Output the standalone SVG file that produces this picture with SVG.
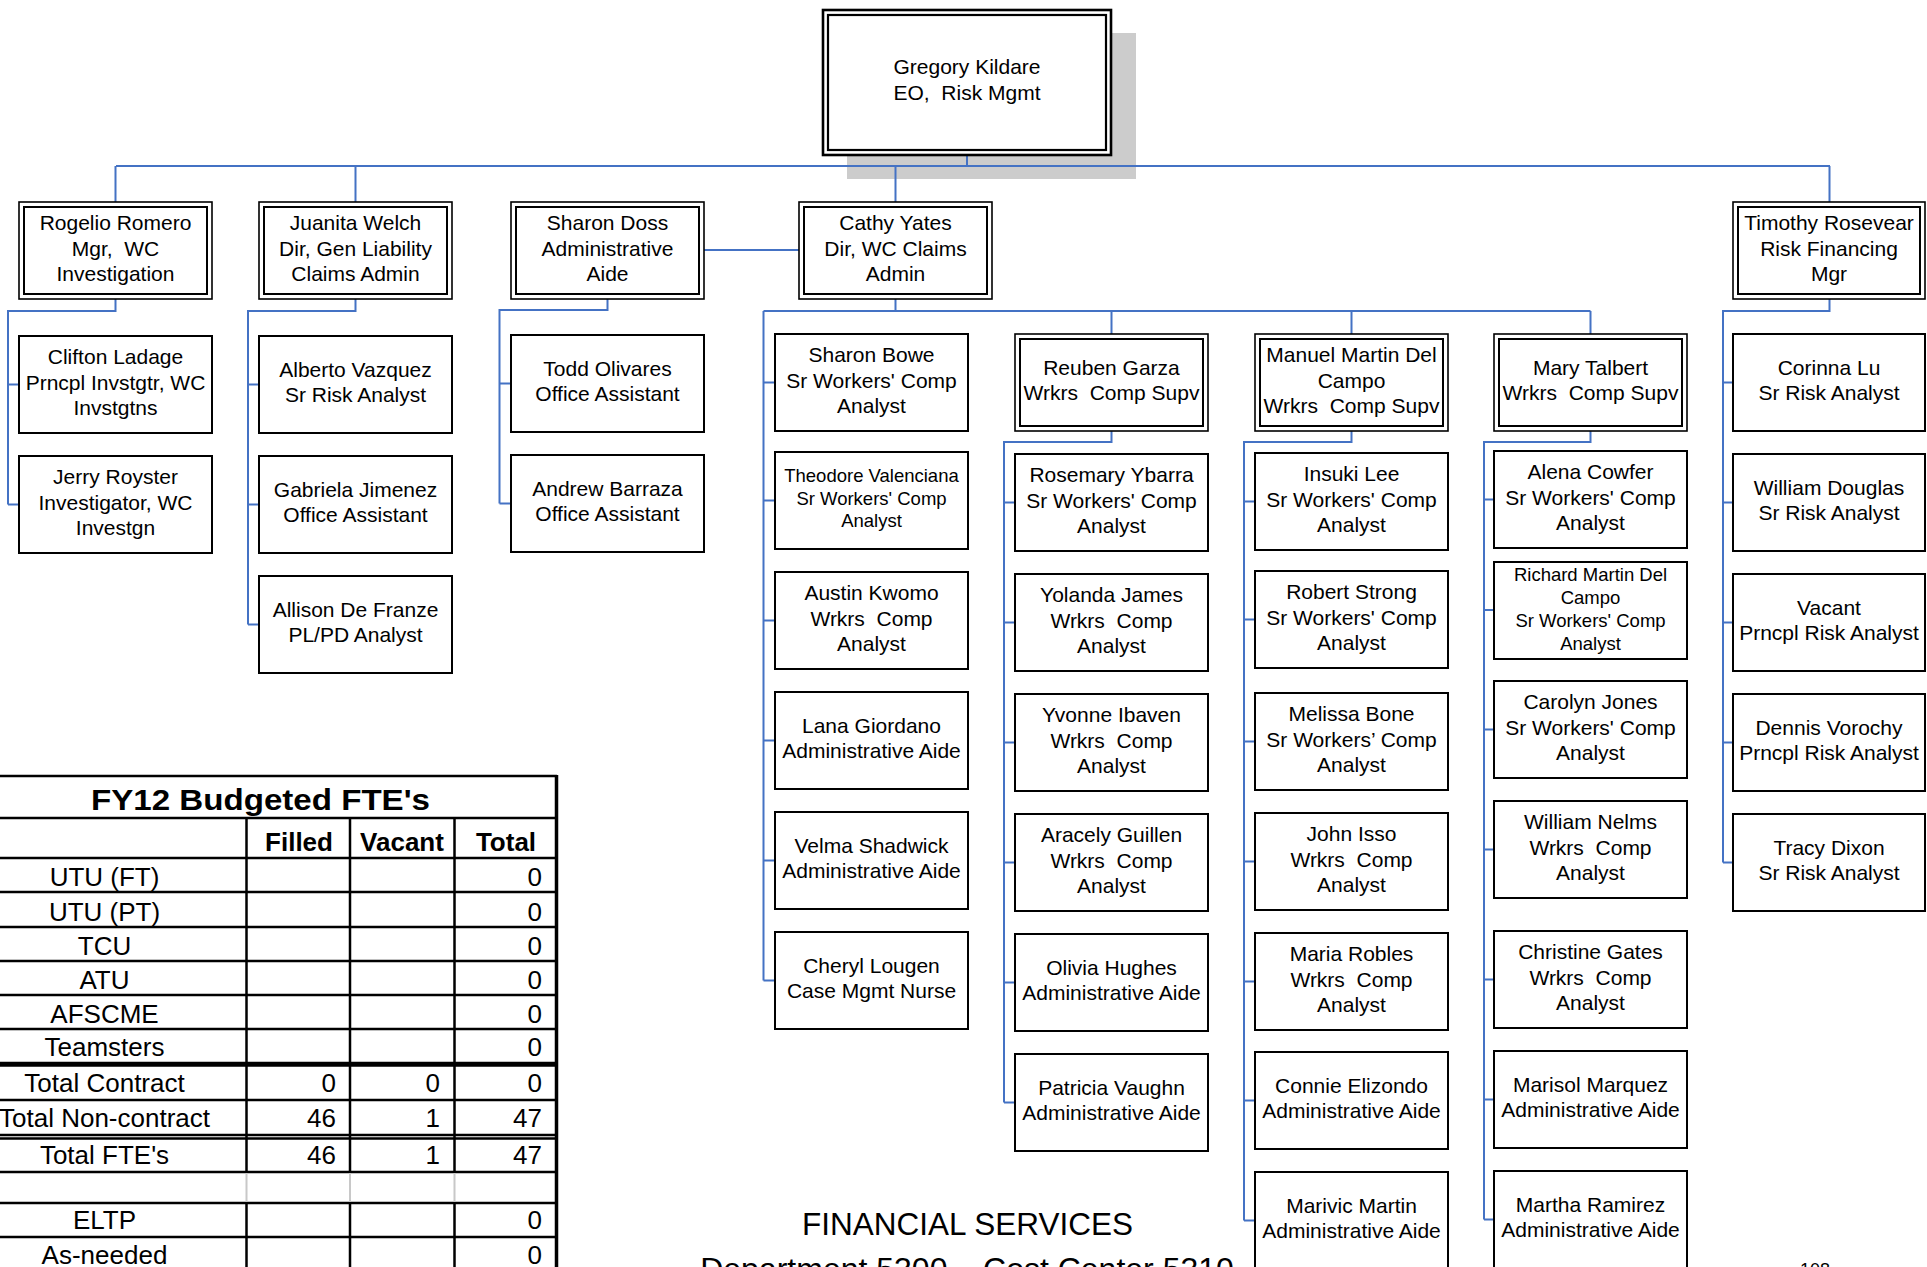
<svg xmlns="http://www.w3.org/2000/svg" width="1927" height="1267" viewBox="0 0 1927 1267">
<style>
.bx{fill:#fff;stroke:#000;stroke-width:2}
.ob{fill:#fff;stroke:#000;stroke-width:1.6}
.ib{fill:none;stroke:#000;stroke-width:2}
.cn{fill:none;stroke:#4472C4;stroke-width:2}
text{font-family:"Liberation Sans",Arial,sans-serif;fill:#000;white-space:pre}
.t{font-size:21px;text-anchor:middle;transform:translateY(-2.5px)}
.s{font-size:18.5px;text-anchor:middle;transform:translateY(-2px)}
.tl{stroke:#000;stroke-width:2.5}
.tg{stroke:#c8c8c8;stroke-width:2}
.tb{font-size:26px;text-anchor:middle}
.tn{font-size:26px;text-anchor:end}
.th{font-size:26px;font-weight:bold;text-anchor:middle}
</style>
<rect width="1927" height="1267" fill="#fff"/>
<rect x="847" y="33" width="289" height="146" fill="#cccccc"/>

<g id="connectors">
<path class="cn" d="M967 155V166M116 166H1830M115.5 166V202M355.5 166V202M895.5 166V202M1829.5 166V202"/>
<path class="cn" d="M115.5 299V311H8V504.5M8 384.5H19M8 504.5H19"/>
<path class="cn" d="M355.5 299V311H248V624.5M248 384.5H259M248 504.5H259M248 624.5H259"/>
<path class="cn" d="M607.5 299V310H499.5V503.5M499.5 383.5H511M499.5 503.5H511"/>
<path class="cn" d="M704 250H799"/>
<path class="cn" d="M895.5 299V311M763.5 311H1590.5M763.5 311V980.5M763.5 382.5H775M763.5 500.5H775M763.5 620.5H775M763.5 740.5H775M763.5 860.5H775M763.5 980.5H775M1111.5 311V334M1351.5 311V334M1590.5 311V334"/>
<path class="cn" d="M1111.5 431V442H1004V1102.5M1004 502.5H1015M1004 622.5H1015M1004 742.5H1015M1004 862.5H1015M1004 982.5H1015M1004 1102.5H1015"/>
<path class="cn" d="M1351.5 431V442H1244V1220.5M1244 501.5H1255M1244 619.5H1255M1244 741.5H1255M1244 861.5H1255M1244 981.5H1255M1244 1100.5H1255M1244 1220.5H1255"/>
<path class="cn" d="M1590.5 431V442H1484V1219.5M1484 499.5H1494M1484 610H1494M1484 729.5H1494M1484 849.5H1494M1484 979.5H1494M1484 1099.5H1494M1484 1219.5H1494"/>
<path class="cn" d="M1829.5 299V311H1723V862.5M1723 382.5H1733M1723 502.5H1733M1723 622.5H1733M1723 742.5H1733M1723 862.5H1733"/>
</g>

<g id="n-kildare">
<rect x="823" y="10" width="288" height="145" fill="#fff" stroke="#000" stroke-width="2.6"/>
<rect x="828" y="15" width="278" height="135" fill="none" stroke="#000" stroke-width="2.2"/>
<text class="t" x="967" y="76.5">Gregory Kildare</text>
<text class="t" x="967" y="102.5">EO,  Risk Mgmt</text>
</g>

<g id="n-romero"><rect class="ob" x="19" y="202" width="193" height="97"/><rect class="ib" x="24" y="207" width="183" height="87"/>
<text class="t" x="115.5" y="232.5">Rogelio Romero</text><text class="t" x="115.5" y="258">Mgr,  WC</text><text class="t" x="115.5" y="283.5">Investigation</text></g>
<g id="n-welch"><rect class="ob" x="259" y="202" width="193" height="97"/><rect class="ib" x="264" y="207" width="183" height="87"/>
<text class="t" x="355.5" y="232.5">Juanita Welch</text><text class="t" x="355.5" y="258">Dir, Gen Liability</text><text class="t" x="355.5" y="283.5">Claims Admin</text></g>
<g id="n-doss"><rect class="ob" x="511" y="202" width="193" height="97"/><rect class="ib" x="516" y="207" width="183" height="87"/>
<text class="t" x="607.5" y="232.5">Sharon Doss</text><text class="t" x="607.5" y="258">Administrative</text><text class="t" x="607.5" y="283.5">Aide</text></g>
<g id="n-yates"><rect class="ob" x="799" y="202" width="193" height="97"/><rect class="ib" x="804" y="207" width="183" height="87"/>
<text class="t" x="895.5" y="232.5">Cathy Yates</text><text class="t" x="895.5" y="258">Dir, WC Claims</text><text class="t" x="895.5" y="283.5">Admin</text></g>
<g id="n-rosevear"><rect class="ob" x="1733" y="202" width="192" height="97"/><rect class="ib" x="1738" y="207" width="182" height="87"/>
<text class="t" x="1829" y="232.5">Timothy Rosevear</text><text class="t" x="1829" y="258">Risk Financing</text><text class="t" x="1829" y="283.5">Mgr</text></g>

<g id="n-ladage"><rect class="bx" x="19" y="336" width="193" height="97"/>
<text class="t" x="115.5" y="366.5">Clifton Ladage</text><text class="t" x="115.5" y="392">Prncpl Invstgtr, WC</text><text class="t" x="115.5" y="417.5">Invstgtns</text></g>
<g id="n-royster"><rect class="bx" x="19" y="456" width="193" height="97"/>
<text class="t" x="115.5" y="486.5">Jerry Royster</text><text class="t" x="115.5" y="512">Investigator, WC</text><text class="t" x="115.5" y="537.5">Investgn</text></g>

<g id="n-vazquez"><rect class="bx" x="259" y="336" width="193" height="97"/>
<text class="t" x="355.5" y="379.5">Alberto Vazquez</text><text class="t" x="355.5" y="404.5">Sr Risk Analyst</text></g>
<g id="n-jimenez"><rect class="bx" x="259" y="456" width="193" height="97"/>
<text class="t" x="355.5" y="499.5">Gabriela Jimenez</text><text class="t" x="355.5" y="524.5">Office Assistant</text></g>
<g id="n-defranze"><rect class="bx" x="259" y="576" width="193" height="97"/>
<text class="t" x="355.5" y="619.5">Allison De Franze</text><text class="t" x="355.5" y="644.5">PL/PD Analyst</text></g>

<g id="n-olivares"><rect class="bx" x="511" y="335" width="193" height="97"/>
<text class="t" x="607.5" y="378.5">Todd Olivares</text><text class="t" x="607.5" y="403.5">Office Assistant</text></g>
<g id="n-barraza"><rect class="bx" x="511" y="455" width="193" height="97"/>
<text class="t" x="607.5" y="498.5">Andrew Barraza</text><text class="t" x="607.5" y="523.5">Office Assistant</text></g>

<g id="n-bowe"><rect class="bx" x="775" y="334" width="193" height="97"/>
<text class="t" x="871.5" y="364.5">Sharon Bowe</text><text class="t" x="871.5" y="390">Sr Workers' Comp</text><text class="t" x="871.5" y="415.5">Analyst</text></g>
<g id="n-valenciana"><rect class="bx" x="775" y="452" width="193" height="97"/>
<text class="s" x="871.5" y="483.6">Theodore Valenciana</text><text class="s" x="871.5" y="506.6">Sr Workers' Comp</text><text class="s" x="871.5" y="528.6">Analyst</text></g>
<g id="n-kwomo"><rect class="bx" x="775" y="572" width="193" height="97"/>
<text class="t" x="871.5" y="602.5">Austin Kwomo</text><text class="t" x="871.5" y="628">Wrkrs  Comp</text><text class="t" x="871.5" y="653.5">Analyst</text></g>
<g id="n-giordano"><rect class="bx" x="775" y="692" width="193" height="97"/>
<text class="t" x="871.5" y="735.5">Lana Giordano</text><text class="t" x="871.5" y="760.5">Administrative Aide</text></g>
<g id="n-shadwick"><rect class="bx" x="775" y="812" width="193" height="97"/>
<text class="t" x="871.5" y="855.5">Velma Shadwick</text><text class="t" x="871.5" y="880.5">Administrative Aide</text></g>
<g id="n-lougen"><rect class="bx" x="775" y="932" width="193" height="97"/>
<text class="t" x="871.5" y="975.5">Cheryl Lougen</text><text class="t" x="871.5" y="1000.5">Case Mgmt Nurse</text></g>

<g id="n-garza"><rect class="ob" x="1015" y="334" width="193" height="97"/><rect class="ib" x="1020" y="339" width="183" height="87"/>
<text class="t" x="1111.5" y="377.5">Reuben Garza</text><text class="t" x="1111.5" y="402.5">Wrkrs  Comp Supv</text></g>
<g id="n-delcampo-m"><rect class="ob" x="1255" y="334" width="193" height="97"/><rect class="ib" x="1260" y="339" width="183" height="87"/>
<text class="t" x="1351.5" y="364.5">Manuel Martin Del</text><text class="t" x="1351.5" y="390">Campo</text><text class="t" x="1351.5" y="415.5">Wrkrs  Comp Supv</text></g>
<g id="n-talbert"><rect class="ob" x="1494" y="334" width="193" height="97"/><rect class="ib" x="1499" y="339" width="183" height="87"/>
<text class="t" x="1590.5" y="377.5">Mary Talbert</text><text class="t" x="1590.5" y="402.5">Wrkrs  Comp Supv</text></g>

<g id="n-ybarra"><rect class="bx" x="1015" y="454" width="193" height="97"/>
<text class="t" x="1111.5" y="484.5">Rosemary Ybarra</text><text class="t" x="1111.5" y="510">Sr Workers' Comp</text><text class="t" x="1111.5" y="535.5">Analyst</text></g>
<g id="n-james"><rect class="bx" x="1015" y="574" width="193" height="97"/>
<text class="t" x="1111.5" y="604.5">Yolanda James</text><text class="t" x="1111.5" y="630">Wrkrs  Comp</text><text class="t" x="1111.5" y="655.5">Analyst</text></g>
<g id="n-ibaven"><rect class="bx" x="1015" y="694" width="193" height="97"/>
<text class="t" x="1111.5" y="724.5">Yvonne Ibaven</text><text class="t" x="1111.5" y="750">Wrkrs  Comp</text><text class="t" x="1111.5" y="775.5">Analyst</text></g>
<g id="n-guillen"><rect class="bx" x="1015" y="814" width="193" height="97"/>
<text class="t" x="1111.5" y="844.5">Aracely Guillen</text><text class="t" x="1111.5" y="870">Wrkrs  Comp</text><text class="t" x="1111.5" y="895.5">Analyst</text></g>
<g id="n-hughes"><rect class="bx" x="1015" y="934" width="193" height="97"/>
<text class="t" x="1111.5" y="977.5">Olivia Hughes</text><text class="t" x="1111.5" y="1002.5">Administrative Aide</text></g>
<g id="n-vaughn"><rect class="bx" x="1015" y="1054" width="193" height="97"/>
<text class="t" x="1111.5" y="1097.5">Patricia Vaughn</text><text class="t" x="1111.5" y="1122.5">Administrative Aide</text></g>

<g id="n-lee"><rect class="bx" x="1255" y="453" width="193" height="97"/>
<text class="t" x="1351.5" y="483.5">Insuki Lee</text><text class="t" x="1351.5" y="509">Sr Workers' Comp</text><text class="t" x="1351.5" y="534.5">Analyst</text></g>
<g id="n-strong"><rect class="bx" x="1255" y="571" width="193" height="97"/>
<text class="t" x="1351.5" y="601.5">Robert Strong</text><text class="t" x="1351.5" y="627">Sr Workers' Comp</text><text class="t" x="1351.5" y="652.5">Analyst</text></g>
<g id="n-bone"><rect class="bx" x="1255" y="693" width="193" height="97"/>
<text class="t" x="1351.5" y="723.5">Melissa Bone</text><text class="t" x="1351.5" y="749">Sr Workers’ Comp</text><text class="t" x="1351.5" y="774.5">Analyst</text></g>
<g id="n-isso"><rect class="bx" x="1255" y="813" width="193" height="97"/>
<text class="t" x="1351.5" y="843.5">John Isso</text><text class="t" x="1351.5" y="869">Wrkrs  Comp</text><text class="t" x="1351.5" y="894.5">Analyst</text></g>
<g id="n-robles"><rect class="bx" x="1255" y="933" width="193" height="97"/>
<text class="t" x="1351.5" y="963.5">Maria Robles</text><text class="t" x="1351.5" y="989">Wrkrs  Comp</text><text class="t" x="1351.5" y="1014.5">Analyst</text></g>
<g id="n-elizondo"><rect class="bx" x="1255" y="1052" width="193" height="97"/>
<text class="t" x="1351.5" y="1095.5">Connie Elizondo</text><text class="t" x="1351.5" y="1120.5">Administrative Aide</text></g>
<g id="n-martin"><rect class="bx" x="1255" y="1172" width="193" height="97"/>
<text class="t" x="1351.5" y="1215.5">Marivic Martin</text><text class="t" x="1351.5" y="1240.5">Administrative Aide</text></g>

<g id="n-cowfer"><rect class="bx" x="1494" y="451" width="193" height="97"/>
<text class="t" x="1590.5" y="481.5">Alena Cowfer</text><text class="t" x="1590.5" y="507">Sr Workers' Comp</text><text class="t" x="1590.5" y="532.5">Analyst</text></g>
<g id="n-delcampo-r"><rect class="bx" x="1494" y="562" width="193" height="97"/>
<text class="s" x="1590.5" y="582.6">Richard Martin Del</text><text class="s" x="1590.5" y="605.6">Campo</text><text class="s" x="1590.5" y="628.6">Sr Workers' Comp</text><text class="s" x="1590.5" y="651.6">Analyst</text></g>
<g id="n-jones"><rect class="bx" x="1494" y="681" width="193" height="97"/>
<text class="t" x="1590.5" y="711.5">Carolyn Jones</text><text class="t" x="1590.5" y="737">Sr Workers' Comp</text><text class="t" x="1590.5" y="762.5">Analyst</text></g>
<g id="n-nelms"><rect class="bx" x="1494" y="801" width="193" height="97"/>
<text class="t" x="1590.5" y="831.5">William Nelms</text><text class="t" x="1590.5" y="857">Wrkrs  Comp</text><text class="t" x="1590.5" y="882.5">Analyst</text></g>
<g id="n-gates"><rect class="bx" x="1494" y="931" width="193" height="97"/>
<text class="t" x="1590.5" y="961.5">Christine Gates</text><text class="t" x="1590.5" y="987">Wrkrs  Comp</text><text class="t" x="1590.5" y="1012.5">Analyst</text></g>
<g id="n-marquez"><rect class="bx" x="1494" y="1051" width="193" height="97"/>
<text class="t" x="1590.5" y="1094.5">Marisol Marquez</text><text class="t" x="1590.5" y="1119.5">Administrative Aide</text></g>
<g id="n-ramirez"><rect class="bx" x="1494" y="1171" width="193" height="97"/>
<text class="t" x="1590.5" y="1214.5">Martha Ramirez</text><text class="t" x="1590.5" y="1239.5">Administrative Aide</text></g>

<g id="n-lu"><rect class="bx" x="1733" y="334" width="192" height="97"/>
<text class="t" x="1829" y="377.5">Corinna Lu</text><text class="t" x="1829" y="402.5">Sr Risk Analyst</text></g>
<g id="n-douglas"><rect class="bx" x="1733" y="454" width="192" height="97"/>
<text class="t" x="1829" y="497.5">William Douglas</text><text class="t" x="1829" y="522.5">Sr Risk Analyst</text></g>
<g id="n-vacant"><rect class="bx" x="1733" y="574" width="192" height="97"/>
<text class="t" x="1829" y="617.5">Vacant</text><text class="t" x="1829" y="642.5">Prncpl Risk Analyst</text></g>
<g id="n-vorochy"><rect class="bx" x="1733" y="694" width="192" height="97"/>
<text class="t" x="1829" y="737.5">Dennis Vorochy</text><text class="t" x="1829" y="762.5">Prncpl Risk Analyst</text></g>
<g id="n-dixon"><rect class="bx" x="1733" y="814" width="192" height="97"/>
<text class="t" x="1829" y="857.5">Tracy Dixon</text><text class="t" x="1829" y="882.5">Sr Risk Analyst</text></g>

<g id="fte-table">
<path class="tl" d="M0 776H557M0 818H557M0 858H557M0 892H557M0 927H557M0 961H557M0 995H557M0 1029H557M0 1063H557M0 1065.5H557M0 1100H557M0 1135H557M0 1138.5H557M0 1172H557M0 1203H557M0 1237H557"/>
<path class="tl" d="M246.5 818V1172M350 818V1172M454.5 818V1172M246.5 1203V1267M350 1203V1267M454.5 1203V1267"/>
<path class="tg" d="M246.5 1173V1202M350 1173V1202M454.5 1173V1202"/>
<path d="M556.5 775V1267" stroke="#000" stroke-width="3.5"/>
<text x="91" y="810" font-size="29" font-weight="bold" textLength="339" lengthAdjust="spacingAndGlyphs">FY12 Budgeted FTE's</text>
<text class="th" x="299" y="851">Filled</text>
<text class="th" x="402" y="851">Vacant</text>
<text class="th" x="506" y="851">Total</text>
<text class="tb" x="104.5" y="886">UTU (FT)</text><text class="tn" x="542" y="886">0</text>
<text class="tb" x="104.5" y="921">UTU (PT)</text><text class="tn" x="542" y="921">0</text>
<text class="tb" x="104.5" y="955">TCU</text><text class="tn" x="542" y="955">0</text>
<text class="tb" x="104.5" y="989">ATU</text><text class="tn" x="542" y="989">0</text>
<text class="tb" x="104.5" y="1023">AFSCME</text><text class="tn" x="542" y="1023">0</text>
<text class="tb" x="104.5" y="1056">Teamsters</text><text class="tn" x="542" y="1056">0</text>
<text class="tb" x="104.5" y="1092">Total Contract</text><text class="tn" x="336" y="1092">0</text><text class="tn" x="440" y="1092">0</text><text class="tn" x="542" y="1092">0</text>
<text class="tb" x="104.5" y="1127">Total Non-contract</text><text class="tn" x="336" y="1127">46</text><text class="tn" x="440" y="1127">1</text><text class="tn" x="542" y="1127">47</text>
<text class="tb" x="104.5" y="1164">Total FTE's</text><text class="tn" x="336" y="1164">46</text><text class="tn" x="440" y="1164">1</text><text class="tn" x="542" y="1164">47</text>
<text class="tb" x="104.5" y="1229">ELTP</text><text class="tn" x="542" y="1229">0</text>
<text class="tb" x="104.5" y="1264">As-needed</text><text class="tn" x="542" y="1264">0</text>
</g>

<g id="footer">
<text x="967.5" y="1235" font-size="31.5" text-anchor="middle">FINANCIAL SERVICES</text>
<text x="967" y="1280" font-size="32" text-anchor="middle">Department 5300 – Cost Center 5310</text>
<text x="1815" y="1276" font-size="18" text-anchor="middle">108</text>
</g>
</svg>
